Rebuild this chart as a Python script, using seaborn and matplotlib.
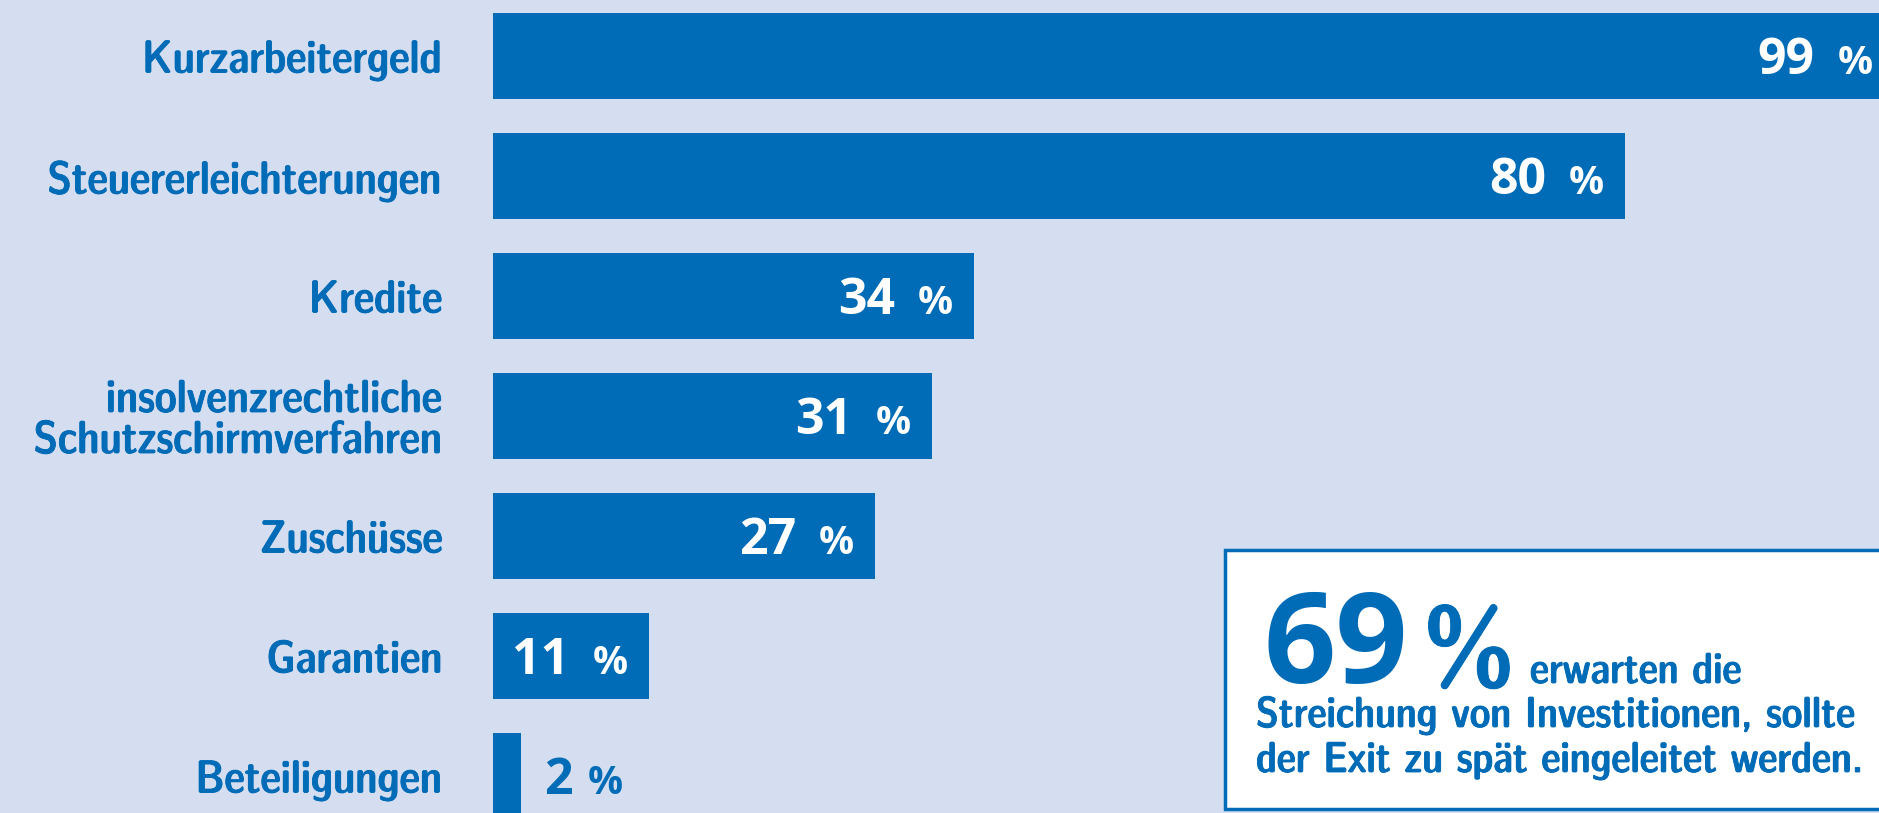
import matplotlib
matplotlib.use("Agg")
import matplotlib.pyplot as plt
import matplotlib.font_manager as fm
import matplotlib.patheffects as pe
import seaborn as sns
import pandas as pd
from matplotlib.patches import Rectangle

# data
categories = ["Kurzarbeitergeld", "Steuererleichterungen", "Kredite",
              "insolvenzrechtliche\nSchutzschirmverfahren", "Zuschüsse",
              "Garantien", "Beteiligungen"]
values = [99, 80, 34, 31, 27, 11, 2]

big_number = "69"
box_lines = ["erwarten die",
             "Streichung von Investitionen, sollte",
             "der Exit zu spät eingeleitet werden."]

blue = "#006bb6"
bg = "#d5def0"
bold_num = ["Open Sans", "DejaVu Sans"]


# look for a condensed semibold/bold face among the installed fonts
def find_condensed():
    found = []
    for f in fm.fontManager.ttflist:
        nm = (f.name + " " + str(f.stretch) + " " + f.fname).lower()
        if not ("condensed" in nm or "narrow" in nm or "cond" in f.fname.lower()):
            continue
        if "italic" in f.style or "oblique" in f.style or "italic" in f.fname.lower():
            continue
        w = f.weight if isinstance(f.weight, int) else {"bold": 700, "semibold": 600,
                                                         "normal": 400}.get(f.weight, 400)
        fn = f.fname.lower()
        rank = 0 if ("semi" not in fn and "extra" not in fn and "ultra" not in fn) else 1
        if "extra" in fn or "ultra" in fn:
            rank = 2
        found.append((rank, abs(w - 620), f.fname))
    found.sort()
    return found[0][2] if found else None


cond_path = find_condensed()


def cfont(size):
    if cond_path:
        return fm.FontProperties(fname=cond_path, size=size)
    return fm.FontProperties(family="DejaVu Sans", weight="bold", size=size)


heavy = [pe.withStroke(linewidth=0.6, foreground=blue)]

sns.set_style("white")
plt.rcParams["font.family"] = ["DejaVu Sans"]

W, H = 1879, 813
fig = plt.figure(figsize=(W / 100, H / 100), dpi=100, facecolor=bg)
renderer = fig.canvas.get_renderer()
ax = fig.add_axes([493 / W, 0, 1 - 493 / W, 1])
ax.set_facecolor(bg)

df = pd.DataFrame({"cat": categories, "val": values})
sns.barplot(ax=ax, data=df, x="val", y="cat", orient="h", color=blue,
            saturation=1, width=86 / 120, linewidth=0)

ax.set_xlim(0, (W - 493) / 14.15)
ax.set_ylim((H - 56) / 120, -56 / 120)
for s in ax.spines.values():
    s.set_visible(False)
ax.set_xticks([])
ax.set_xlabel("")
ax.set_ylabel("")
ax.tick_params(axis="y", length=0, pad=36, labelcolor=blue)


def fitted_size(text, size, target_px):
    t = fig.text(0, 0, text, fontproperties=cfont(size))
    w = t.get_window_extent(renderer).width
    t.remove()
    return size * max(0.7, min(1.15, target_px / w))


lab_size = fitted_size("Kurzarbeitergeld", 30, 300)
for lab in ax.get_yticklabels():
    lab.set_fontproperties(cfont(lab_size))
    lab.set_linespacing(1.0)
    lab.set_path_effects(heavy)

# value labels
for i, v in enumerate(values):
    inside = v >= 10
    col = "white" if inside else blue
    if inside:
        xy1, xy2, ha = (-79, -18), (-21, -18), "right"
    else:
        xy1, xy2, ha = (23, -18), (66, -18), "left"
    ax.annotate(str(v), xy=(v, i), xytext=xy1, textcoords="offset pixels",
                ha=ha, va="baseline", color=col, fontsize=36,
                fontweight="bold", family=bold_num, annotation_clip=False)
    ax.annotate("%", xy=(v, i), xytext=xy2, textcoords="offset pixels",
                ha=ha, va="baseline", color=col, fontsize=28,
                fontweight="bold", family=bold_num, annotation_clip=False)


# info box
def fy(py):
    return 1 - py / H


fig.patches.append(Rectangle((1225 / W, fy(809)), (W + 10 - 1225) / W, (809 - 550) / H,
                             transform=fig.transFigure, facecolor="white",
                             edgecolor=blue, linewidth=2.5, zorder=5))
fig.text(1263 / W, fy(683), big_number, ha="left", va="baseline", color=blue,
         fontsize=91, fontweight="bold", family=bold_num, zorder=6)
fig.text(1423 / W, fy(683), "%", ha="left", va="baseline", color=blue,
         fontproperties=cfont(fitted_size("%", 73, 92)), zorder=6, path_effects=heavy)
box_size = fitted_size(box_lines[1], 29.5, 600)
fig.text(1530 / W, fy(683), box_lines[0], ha="left", va="baseline", color=blue,
         fontproperties=cfont(box_size), zorder=6, path_effects=heavy)
fig.text(1256 / W, fy(727), box_lines[1], ha="left", va="baseline", color=blue,
         fontproperties=cfont(box_size), zorder=6, path_effects=heavy)
fig.text(1256 / W, fy(772), box_lines[2], ha="left", va="baseline", color=blue,
         fontproperties=cfont(box_size), zorder=6, path_effects=heavy)

fig.savefig("out.png", dpi=100, facecolor=bg)
